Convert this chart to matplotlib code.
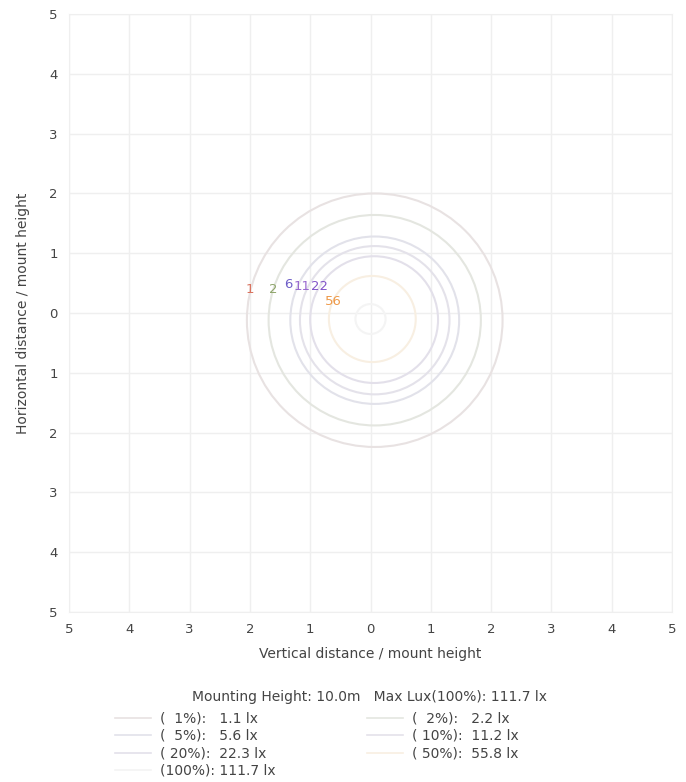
import matplotlib
matplotlib.use("Agg")
import matplotlib.pyplot as plt
from matplotlib.patches import Circle
from matplotlib.lines import Line2D

# ---- data ----
percents = [1, 2, 5, 10, 20, 50, 100]
lux = [1.1, 2.2, 5.6, 11.2, 22.3, 55.8, 111.7]
radii = [2.12, 1.76, 1.40, 1.24, 1.06, 0.72, 0.25]
center_x = [0.07, 0.07, 0.07, 0.07, 0.06, 0.03, 0.0]
center_y = [-0.12, -0.12, -0.12, -0.12, -0.11, -0.1, -0.1]
label_text = ["1", "2", "6", "11", "22", "56", ""]
label_x = [-2.0, -1.62, -1.37, -1.13, -0.84, -0.62, 0.0]
label_y = [0.4, 0.4, 0.47, 0.45, 0.45, 0.2, 0.0]
line_colors = ["#e8e2e2", "#e4e6e0", "#e2e2ea", "#e4e2ea", "#e3e0ea", "#f8efe2", "#f4f4f4"]
label_colors = ["#d9735f", "#8ea56a", "#6f5fc8", "#9a6ad0", "#8255c8", "#ee9a4a", "#cccccc"]
ticks = [-5, -4, -3, -2, -1, 0, 1, 2, 3, 4, 5]
tick_labels = [str(abs(t)) for t in ticks]
mount_height = "10.0m"
max_lux = 111.7

fig = plt.figure(figsize=(6.86, 7.82), dpi=100)
ax = fig.add_axes([0.1006, 0.2174, 0.879, 0.7646])
ax.set_xlim(-5, 5)
ax.set_ylim(-5, 5)
ax.set_xticks(ticks)
ax.set_yticks(ticks)
ax.set_xticklabels(tick_labels)
ax.set_yticklabels(tick_labels)
ax.tick_params(length=0, labelsize=9.5, labelcolor="#444444", pad=8)
ax.grid(True, color="#efefef", linewidth=1)
for s in ax.spines.values():
    s.set_color("#efefef")
ax.set_axisbelow(True)

for i in range(len(percents)):
    c = Circle((center_x[i], center_y[i]), radii[i], fill=False,
               edgecolor=line_colors[i], linewidth=1.5)
    ax.add_patch(c)
    if label_text[i]:
        ax.text(label_x[i], label_y[i], label_text[i], color=label_colors[i],
                fontsize=9.5, ha="center", va="center")

ax.set_xlabel("Vertical distance / mount height", fontsize=10, color="#444444", labelpad=8)
ax.set_ylabel("Horizontal distance / mount height", fontsize=10, color="#444444", labelpad=14)

# legend
handles = []
labels = []
order = [0, 2, 4, 6, 1, 3, 5]
for i in order:
    handles.append(Line2D([0], [0], color=line_colors[i], linewidth=1.2))
    labels.append("(%3d%%): %5.1f lx" % (percents[i], lux[i]) if percents[i] < 100
                  else "(%d%%): %.1f lx" % (percents[i], lux[i]))
fig.text(0.538, 0.109, "Mounting Height: %s   Max Lux(100%%): %.1f lx" % (mount_height, max_lux),
         ha="center", va="center", fontsize=10, color="#444444")
leg = fig.legend(handles, labels, ncol=2, loc="upper left",
                 bbox_to_anchor=(0.158, 0.099), frameon=False, fontsize=10,
                 handlelength=2.6, handletextpad=0.6, columnspacing=6.6,
                 labelspacing=0.25, borderpad=0, labelcolor="#444444")

fig.savefig("out.png", dpi=100, facecolor="white")
